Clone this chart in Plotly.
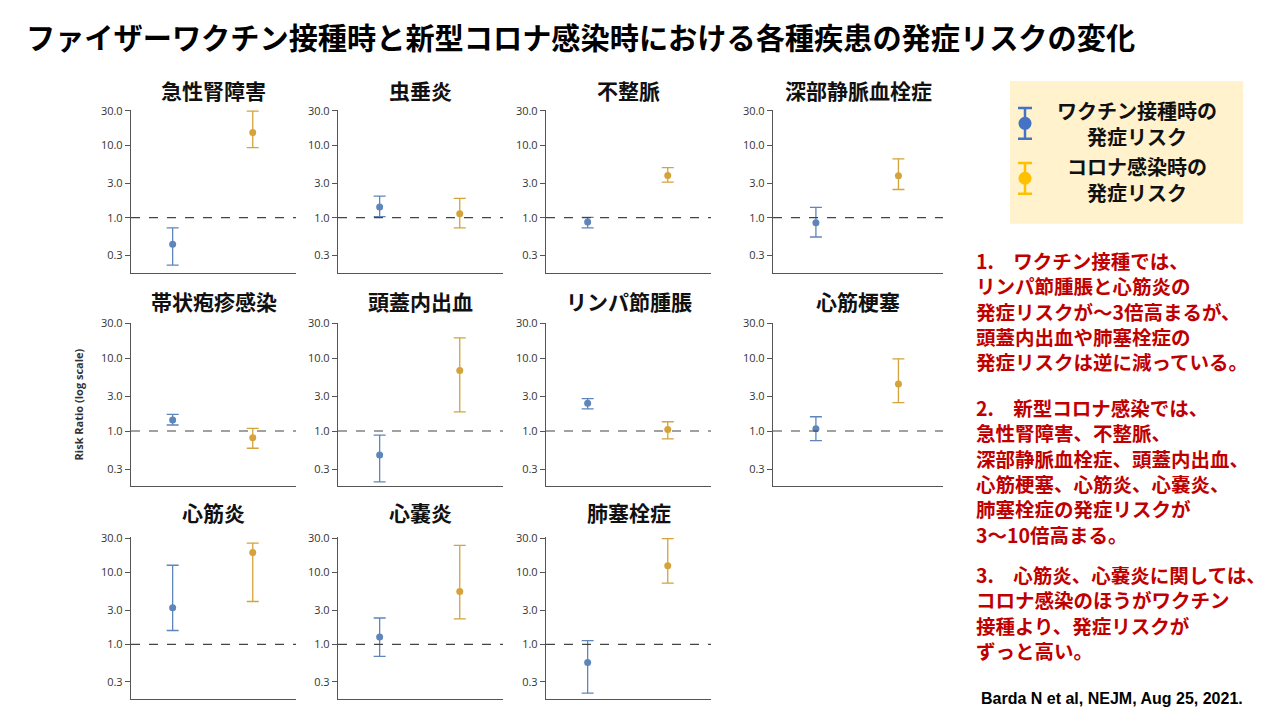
import plotly.graph_objects as go

# ---------------- data ----------------
conditions = ["急性腎障害", "虫垂炎", "不整脈", "深部静脈血栓症",
              "帯状疱疹感染", "頭蓋内出血", "リンパ節腫脹", "心筋梗塞",
              "心筋炎", "心嚢炎", "肺塞栓症"]
vac_rr = [0.43, 1.40, 0.87, 0.85, 1.42, 0.47, 2.40, 1.07, 3.24, 1.27, 0.56]
vac_lo = [0.22, 1.03, 0.72, 0.54, 1.21, 0.20, 2.01, 0.74, 1.56, 0.68, 0.21]
vac_hi = [0.72, 1.98, 1.01, 1.39, 1.69, 0.88, 2.79, 1.57, 12.6, 2.33, 1.13]
inf_rr = [15.0, 1.13, 3.83, 3.80, 0.81, 6.8, 1.05, 4.42, 18.9, 5.42, 12.4]
inf_lo = [9.3, 0.72, 3.10, 2.45, 0.58, 1.83, 0.78, 2.46, 3.95, 2.26, 7.1]
inf_hi = [29.6, 1.85, 4.9, 6.5, 1.09, 19.0, 1.34, 9.8, 25.6, 23.8, 29.5]
tick_vals = [0.3, 1, 3, 10, 30]
tick_text = ["0.3", "1.0", "3.0", "10.0", "30.0"]
legend_labels = ["ワクチン接種時の<br>発症リスク", "コロナ感染時の<br>発症リスク"]

title_text = "ファイザーワクチン接種時と新型コロナ感染時における各種疾患の発症リスクの変化"
note1 = ["1.　ワクチン接種では、", "リンパ節腫脹と心筋炎の", "発症リスクが～3倍高まるが、",
         "頭蓋内出血や肺塞栓症の", "発症リスクは逆に減っている。"]
note2 = ["2.　新型コロナ感染では、", "急性腎障害、不整脈、", "深部静脈血栓症、頭蓋内出血、",
         "心筋梗塞、心筋炎、心嚢炎、", "肺塞栓症の発症リスクが", "3～10倍高まる。"]
note3 = ["3.　心筋炎、心嚢炎に関しては、", "コロナ感染のほうがワクチン",
         "接種より、発症リスクが", "ずっと高い。"]
citation = "Barda N et al, NEJM, Aug 25, 2021."

# ---------------- style ----------------
W, H = 1280, 720
BLUE = "#5f86bb"
GOLD = "#d4a33c"
AX = "#555555"
JP = "Noto Sans CJK JP"
col_px = [(131, 296), (338, 503), (546, 711), (773, 943)]
row_px = [(109, 272), (322, 486), (537, 699)]
title_y = [89, 300, 512]


def px(x):
    return x / W


def py(y):
    # pixel row (from top) -> paper fraction
    return 1 - (y - 6) / 714


fig = go.Figure()
layout = {}
shapes = []
annotations = []

for i, name in enumerate(conditions):
    r, c = divmod(i, 4)
    n = i + 1
    sfx = "" if n == 1 else str(n)
    xa, ya = "x" + sfx, "y" + sfx
    fig.add_trace(go.Scatter(
        x=[0], y=[vac_rr[i]], mode="markers",
        marker=dict(color=BLUE, size=7),
        error_y=dict(type="data", symmetric=False,
                     array=[vac_hi[i] - vac_rr[i]],
                     arrayminus=[vac_rr[i] - vac_lo[i]],
                     color=BLUE, thickness=1.3, width=6),
        xaxis=xa, yaxis=ya, showlegend=False, hoverinfo="y"))
    fig.add_trace(go.Scatter(
        x=[1], y=[inf_rr[i]], mode="markers",
        marker=dict(color=GOLD, size=7),
        error_y=dict(type="data", symmetric=False,
                     array=[inf_hi[i] - inf_rr[i]],
                     arrayminus=[inf_rr[i] - inf_lo[i]],
                     color=GOLD, thickness=1.3, width=6),
        xaxis=xa, yaxis=ya, showlegend=False, hoverinfo="y"))
    x0, x1 = col_px[c]
    yt, yb = row_px[r]
    layout["xaxis" + sfx] = dict(
        domain=[px(x0), px(x1)], range=[-0.52, 1.54], anchor=ya,
        showline=True, linecolor=AX, linewidth=1.3, ticks="",
        showticklabels=False, showgrid=False, zeroline=False, fixedrange=True)
    layout["yaxis" + sfx] = dict(
        domain=[py(yb), py(yt)], type="log", range=[-0.76, 1.49],
        anchor=xa, tickvals=tick_vals, ticktext=tick_text,
        ticks="outside", ticklen=5, tickwidth=1.2, tickcolor=AX,
        showline=True, linecolor=AX, linewidth=1.3,
        showgrid=False, zeroline=False, fixedrange=True,
        tickfont=dict(family="Open Sans", size=11, color="#333333"))
    shapes.append(dict(type="line", xref=xa + " domain", yref=ya,
                       x0=0, x1=1, y0=1, y1=1,
                       line=dict(color="#444444", width=1.2, dash="dash")))
    annotations.append(dict(text="<b>" + name + "</b>", xref=xa + " domain", x=0.5,
                            xanchor="center",
                            yref="paper", y=py(title_y[r]), yanchor="middle",
                            showarrow=False, font=dict(family=JP, size=21, color="#111111")))

# y-axis title (only on the second row, first column)
annotations.append(dict(text="<b>Risk Ratio (log scale)</b>", xref="paper", x=px(78),
                        xanchor="center",
                        yref="paper", y=py(404), textangle=-90, showarrow=False,
                        font=dict(family="Open Sans", size=11, color="#333333")))

# legend box
shapes.append(dict(type="rect", xref="paper", yref="paper",
                   x0=px(1010), x1=px(1243), y0=py(223), y1=py(80),
                   fillcolor="#FFF2CC", line=dict(width=0), layer="below"))
# legend icons on a hidden axis
leg_colors = ["#4472C4", "#FFC000"]
for k, lab in enumerate(legend_labels):
    yv = 1 - k
    fig.add_trace(go.Scatter(
        x=[0], y=[yv], mode="markers",
        marker=dict(color=leg_colors[k], size=13),
        error_y=dict(type="constant", value=0.28, color=leg_colors[k], thickness=2.5, width=7),
        xaxis="x12", yaxis="y12", showlegend=False, hoverinfo="skip"))
    annotations.append(dict(text="<b>" + lab + "</b>", xref="paper", x=px(1137),
                            xanchor="center",
                            yref="paper", y=py(123 + 56 * k), yanchor="middle",
                            showarrow=False, align="center",
                            font=dict(family=JP, size=20, color="#111111")))
layout["xaxis12"] = dict(domain=[px(1015), px(1035)], range=[-1, 1], visible=False,
                         anchor="y12", fixedrange=True)
layout["yaxis12"] = dict(domain=[py(205), py(95)], range=[-0.5, 1.5], visible=False,
                         anchor="x12", fixedrange=True)

# main title
annotations.append(dict(text="<b>" + title_text + "</b>", xref="paper", x=px(24), xanchor="left",
                        yref="paper", y=py(35), yanchor="middle", showarrow=False,
                        font=dict(family=JP, size=29.2, color="#000000")))

# red notes, one annotation per block
for lines, yc in [(note1, 310), (note2, 471), (note3, 612)]:
    annotations.append(dict(text="<b>" + "<br>".join(lines) + "</b>", xref="paper", x=px(974),
                            xanchor="left",
                            yref="paper", y=py(yc), yanchor="middle",
                            showarrow=False, align="left",
                            font=dict(family=JP, size=19.5, color="#C00000")))

annotations.append(dict(text="<b>" + citation + "</b>", xref="paper", x=px(1112),
                        xanchor="center",
                        yref="paper", y=py(698), yanchor="middle", showarrow=False,
                        font=dict(family="Liberation Sans", size=16, color="#000000")))

fig.update_layout(
    width=W, height=H, autosize=False,
    margin=dict(l=0, r=0, t=0, b=0),
    paper_bgcolor="white", plot_bgcolor="white",
    shapes=shapes, annotations=annotations, showlegend=False,
    **layout)

fig.write_html("out.html", config={"displayModeBar": False},
               post_script="document.body.style.margin='0';")
